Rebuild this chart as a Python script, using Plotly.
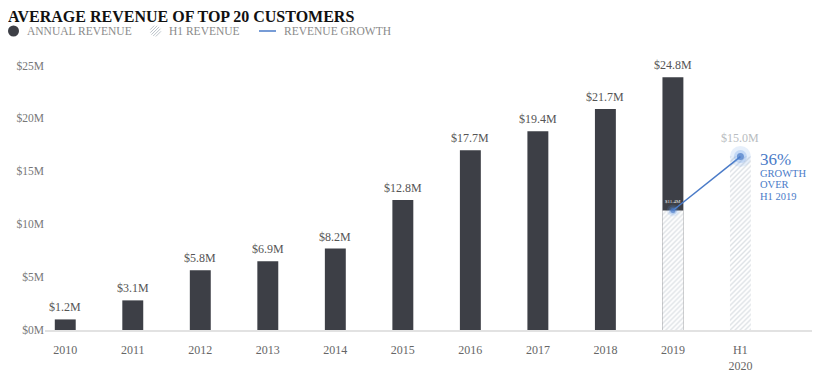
import math
import plotly.graph_objects as go

# ---- data ----
categories = ["2010", "2011", "2012", "2013", "2014", "2015", "2016", "2017", "2018", "2019", "H1 2020"]
tick_labels = ["2010", "2011", "2012", "2013", "2014", "2015", "2016", "2017", "2018", "2019", "H1<br>2020"]
annual_cats = ["2010", "2011", "2012", "2013", "2014", "2015", "2016", "2017", "2018", "2019"]
annual_values = [1.0, 2.8, 5.65, 6.5, 7.7, 12.3, 17.0, 18.8, 20.9, 23.9]
annual_labels = ["$1.2M", "$3.1M", "$5.8M", "$6.9M", "$8.2M", "$12.8M", "$17.7M", "$19.4M", "$21.7M", "$24.8M"]
h1_cats = ["2019", "H1 2020"]
h1_values = [11.3, 16.4]
h1_labels = ["$11.4M", "$15.0M"]
growth_text = "36%"
growth_sub_lines = ["GROWTH", "OVER", "H1 2019"]
y_ticks = [0, 5, 10, 15, 20, 25]
y_tick_text = ["$0M", "$5M", "$10M", "$15M", "$20M", "$25M"]

DARK = "#3d3f46"
BLUE = "#4a7bc8"
HATCH = "#bcc4cb"
SERIF = "Liberation Serif, Times New Roman, serif"

# page places the figure 8px in from the window's corner
OFF = 8
W, H = 812, 366
ML, MR, MT, MB = 45 - OFF, 8, 55 - OFF, 44
PW, PH = W - ML - MR, H - MT - MB


def px_x(px):  # screenshot x -> paper
    return (px - OFF - ML) / PW


def px_y(py):  # screenshot y -> paper
    return (H - MB - (py - OFF)) / PH


def cat_idx(c):
    return categories.index(c)


fig = go.Figure()

fig.add_trace(go.Bar(
    x=annual_cats, y=annual_values, width=0.31,
    marker=dict(color=DARK, line=dict(width=0)),
    hoverinfo="skip", showlegend=False,
))

fig.add_trace(go.Bar(
    x=h1_cats, y=h1_values, width=0.31,
    marker=dict(color="white", line=dict(width=0),
                pattern=dict(shape="/", fgcolor=HATCH, bgcolor="white", size=3.5, solidity=0.4)),
    hoverinfo="skip", showlegend=False,
))

# growth line with glow
fig.add_trace(go.Scatter(
    x=h1_cats, y=h1_values, mode="lines",
    line=dict(color=BLUE, width=1.5), hoverinfo="skip", showlegend=False,
))
fig.add_trace(go.Scatter(
    x=h1_cats, y=h1_values, mode="markers",
    marker=dict(color="rgba(90,150,230,0.22)", size=[12, 21], line=dict(width=0)),
    hoverinfo="skip", showlegend=False,
))
fig.add_trace(go.Scatter(
    x=h1_cats, y=h1_values, mode="markers",
    marker=dict(color="rgba(90,150,230,0.35)", size=[8, 13], line=dict(width=0)),
    hoverinfo="skip", showlegend=False,
))
fig.add_trace(go.Scatter(
    x=h1_cats, y=h1_values, mode="markers",
    marker=dict(color=BLUE, size=[5, 7], line=dict(width=0)),
    hoverinfo="skip", showlegend=False,
))

annotations = []
for c, v, t in zip(annual_cats, annual_values, annual_labels):
    annotations.append(dict(x=cat_idx(c), y=v, text=t, showarrow=False, yanchor="bottom", yshift=3,
                            font=dict(family=SERIF, size=12, color="#555555")))
# H1 labels
annotations.append(dict(x=cat_idx(h1_cats[0]), y=h1_values[0], text=h1_labels[0], showarrow=False,
                        yanchor="bottom", yshift=4, font=dict(family=SERIF, size=5, color="#e6e6e6")))
annotations.append(dict(x=cat_idx(h1_cats[1]), y=h1_values[1], text=h1_labels[1], showarrow=False,
                        yanchor="bottom", yshift=10, font=dict(family=SERIF, size=12, color="#b8bcc0")))
# growth callout (one text block)
callout = "<span style='font-size:17px'>" + growth_text + "</span><br>" + "<br>".join(
    "<span style='font-size:10.5px'>" + s + "</span>" for s in growth_sub_lines)
annotations.append(dict(x=cat_idx(h1_cats[1]), y=h1_values[1], text=callout, showarrow=False,
                        xanchor="left", yanchor="top", align="left", xshift=18, yshift=9,
                        font=dict(family=SERIF, size=9, color=BLUE)))

# legend (manual)
leg_y = px_y(31)
legend_items = [("ANNUAL REVENUE", 25), ("H1 REVENUE", 167), ("REVENUE GROWTH", 282)]
for txt, xpx in legend_items:
    annotations.append(dict(xref="paper", yref="paper", x=px_x(xpx), y=leg_y, text=txt,
                            showarrow=False, xanchor="left", yanchor="middle",
                            font=dict(family=SERIF, size=11.5, color="#8a8a8a")))

# hatched legend circle: diagonal chords inside a circle of radius r
r = 5.5
segs = []
d = -r + 0.8
while d < r:
    h = math.sqrt(max(r * r - d * d, 0))
    cx, cy = d / math.sqrt(2), -d / math.sqrt(2)
    ux = h / math.sqrt(2)
    segs.append(f"M{cx-ux:.2f},{cy-ux:.2f} L{cx+ux:.2f},{cy+ux:.2f}")
    d += 2.2
hatch_path = " ".join(segs)

shapes = [
    dict(type="circle", xref="paper", yref="paper", xsizemode="pixel", ysizemode="pixel",
         xanchor=px_x(13.5), yanchor=leg_y, x0=-r, x1=r, y0=-r, y1=r,
         fillcolor=DARK, line=dict(width=0)),
    dict(type="path", xref="paper", yref="paper", xsizemode="pixel", ysizemode="pixel",
         xanchor=px_x(155.5), yanchor=leg_y, path=hatch_path,
         line=dict(color=HATCH, width=1)),
    dict(type="line", xref="paper", yref="paper", x0=px_x(259), x1=px_x(276),
         y0=leg_y, y1=leg_y, line=dict(color=BLUE, width=1.5)),
]

fig.update_layout(
    width=W, height=H,
    margin=dict(l=ML, r=MR, t=MT, b=MB, autoexpand=False),
    paper_bgcolor="white", plot_bgcolor="white",
    barmode="overlay",
    title=dict(text="<b>AVERAGE REVENUE OF TOP 20 CUSTOMERS</b>", xref="container", yref="container",
               x=0, xanchor="left", y=1 - 8 / H, yanchor="middle", pad=dict(l=0, r=0, t=0, b=0),
               font=dict(family=SERIF, size=16, color="#111111")),
    xaxis=dict(type="category", categoryorder="array", categoryarray=categories,
               tickmode="array", tickvals=categories, ticktext=tick_labels,
               range=[-0.3, 11.06], showgrid=False, zeroline=False, automargin=False,
               showline=True, linecolor="#e2e2e2", linewidth=2, ticks="",
               ticklabelstandoff=8,
               tickfont=dict(family=SERIF, size=12, color="#666666")),
    yaxis=dict(range=[0, 26], tickmode="array", tickvals=y_ticks, ticktext=y_tick_text,
               showgrid=False, zeroline=False, showline=False, ticks="", automargin=False,
               tickfont=dict(family=SERIF, size=11.5, color="#777777")),
    annotations=annotations,
    shapes=shapes,
    showlegend=False,
)

fig.write_html("out.html")
